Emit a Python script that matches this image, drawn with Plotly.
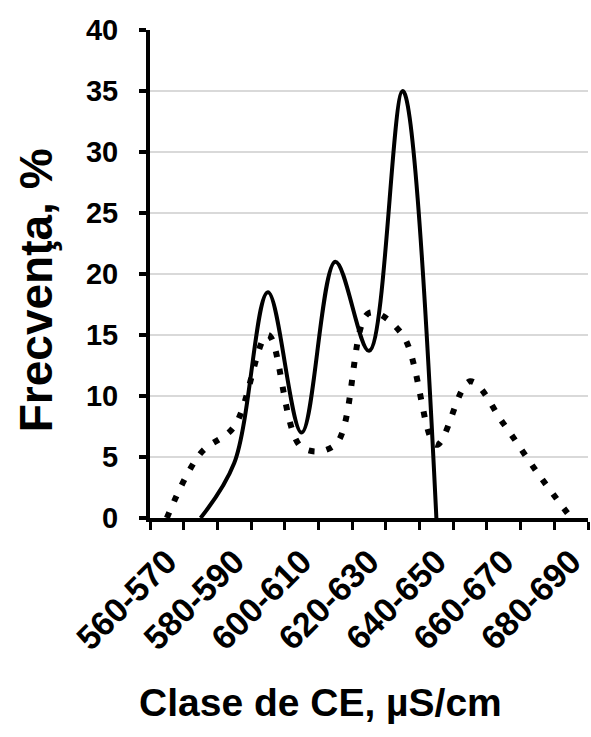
import plotly.graph_objects as go

categories = ["560-570", "570-580", "580-590", "590-600", "600-610", "610-620",
              "620-630", "630-640", "640-650", "650-660", "660-670", "670-680", "680-690"]
solid_values = [None, 0, 4.5, 18.5, 7, 21, 13.7, 35, 0, None, None, None, None]
dotted_values = [0, 5.3, 7.5, 15, 5.8, 6, 16.8, 15, 6, 11.2, 7.7, 3.7, 0]
tick_labels = [c if i % 2 == 0 else "" for i, c in enumerate(categories)]
y_ticks = [0, 5, 10, 15, 20, 25, 30, 35, 40]

FONT = "Liberation Sans, Arial, sans-serif"

fig = go.Figure()
fig.add_trace(go.Scatter(
    x=categories, y=dotted_values, mode="lines",
    line=dict(color="black", width=6, dash="6px,12px", shape="spline", smoothing=1.0),
    showlegend=False, hoverinfo="skip"))
fig.add_trace(go.Scatter(
    x=categories, y=solid_values, mode="lines",
    line=dict(color="black", width=4, shape="spline", smoothing=1.0),
    showlegend=False, hoverinfo="skip", connectgaps=False))

fig.update_layout(
    width=591, height=737,
    margin=dict(l=150, r=3, t=30, b=219),
    paper_bgcolor="white", plot_bgcolor="white",
    font=dict(family=FONT, color="black"),
    xaxis=dict(
        type="category", range=[-0.5, 12.5],
        tickmode="array", tickvals=categories, ticktext=tick_labels,
        tickson="boundaries", tickangle=-45,
        ticks="outside", ticklen=8, tickwidth=3, tickcolor="black",
        showline=True, linecolor="black", linewidth=4,
        showgrid=False, zeroline=False, automargin=False, ticklabelstandoff=6,
        tickfont=dict(family=FONT, size=34, color="black", weight="bold"),
    ),
    yaxis=dict(
        range=[0, 40], tickmode="array", tickvals=y_ticks,
        ticks="outside", ticklen=7, tickwidth=4, tickcolor="black",
        showline=True, linecolor="black", linewidth=4,
        showgrid=True, gridcolor="#d9d9d9", gridwidth=1.5,
        zeroline=False, automargin=False, ticklabelstandoff=15,
        tickfont=dict(family=FONT, size=29, color="black", weight="bold"),
    ),
    annotations=[
        dict(text="<b>Frecvenţa, %</b>", xref="paper", yref="paper",
             x=-0.26, y=0.467, textangle=-90, showarrow=False,
             xanchor="center", yanchor="middle",
             font=dict(family=FONT, size=46, color="black")),
        dict(text="<b>Clase de CE, µS/cm</b>", xref="paper", yref="paper",
             x=0.39, y=-0.379, showarrow=False,
             xanchor="center", yanchor="middle",
             font=dict(family=FONT, size=39, color="black")),
    ],
)

fig.write_html("out.html")
